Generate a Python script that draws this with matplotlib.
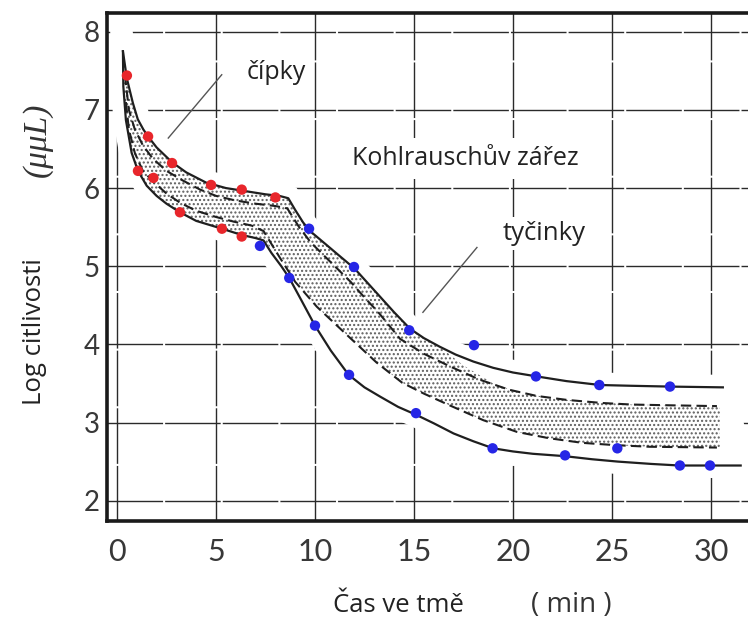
import numpy as np
import matplotlib
matplotlib.use("Agg")
import matplotlib.pyplot as plt

# Adaptace na tmu - prah citlivosti v case (cipky / tycinky)

# horni plna krivka (cipky -> tycinky)
upper_x = [0.3, 0.5, 0.8, 1.05, 1.33, 1.57, 2.0, 2.78, 3.5, 4.5, 5.5, 6.5, 7.5, 8.2, 8.65,
           9.0, 9.4, 9.75, 10.5, 11.2, 12.0, 13.0, 14.0, 14.8, 15.5, 16.3, 17.1, 18.0,
           19.0, 20.0, 21.2, 22.7, 24.4, 26.0, 27.9, 30.6]
upper_y = [7.75, 7.4, 7.09, 6.88, 6.75, 6.66, 6.52, 6.33, 6.2, 6.07, 6.0, 5.96, 5.92, 5.9, 5.87,
           5.72, 5.56, 5.45, 5.29, 5.14, 4.97, 4.69, 4.41, 4.2, 4.08, 3.97, 3.87, 3.78,
           3.7, 3.64, 3.59, 3.53, 3.48, 3.47, 3.46, 3.45]

# dolni plna krivka
lower_x = [0.3, 0.32, 0.45, 0.74, 1.06, 1.5, 2.0, 2.5, 3.18, 4.0, 5.3, 6.3, 7.0, 7.4,
           7.8, 8.3, 8.7, 9.3, 10.0, 10.8, 11.7, 12.5, 13.3, 14.2, 15.1, 16.0, 17.0,
           18.0, 19.0, 20.0, 21.0, 22.6, 24.0, 25.3, 27.0, 28.4, 30.0, 31.5]
lower_y = [7.75, 7.3, 6.87, 6.45, 6.22, 6.03, 5.9, 5.8, 5.69, 5.58, 5.48, 5.4, 5.36, 5.33,
           5.17, 5.0, 4.85, 4.57, 4.24, 3.92, 3.61, 3.45, 3.33, 3.2, 3.1, 2.99, 2.86,
           2.76, 2.67, 2.63, 2.6, 2.57, 2.53, 2.5, 2.47, 2.45, 2.45, 2.45]

# vnitrni carkovane krivky
dash_up_x = [0.4, 0.6, 0.9, 1.3, 1.8, 2.5, 3.3, 4.2, 5.0, 6.0, 7.0, 8.0, 8.6,
             9.2, 9.8, 10.8, 11.8, 12.5, 13.2, 14.3, 15.5, 16.8, 18.3, 19.8, 21.2,
             22.7, 24.5, 26.0, 28.0, 30.3]
dash_up_y = [7.45, 7.0, 6.75, 6.55, 6.38, 6.22, 6.1, 5.98, 5.9, 5.84, 5.8, 5.77, 5.74,
             5.5, 5.3, 5.05, 4.8, 4.6, 4.41, 4.07, 3.88, 3.72, 3.55, 3.42, 3.34,
             3.29, 3.25, 3.23, 3.22, 3.21]
dash_lo_x = [0.45, 0.6, 0.9, 1.3, 1.84, 2.5, 3.2, 4.0, 5.0, 5.9, 6.8, 7.4,
             8.2, 9.0, 10.1, 11.7, 13.1, 14.4, 15.5, 16.8, 18.5, 20.2, 21.8, 23.5,
             25.2, 26.9, 30.3]
dash_lo_y = [7.1, 6.75, 6.45, 6.22, 6.08, 5.93, 5.81, 5.71, 5.63, 5.57, 5.52, 5.45,
             5.12, 4.8, 4.48, 4.1, 3.77, 3.51, 3.37, 3.22, 3.03, 2.88, 2.8, 2.74,
             2.71, 2.69, 2.68]

# konec teckovane oblasti (mezi carkovanymi krivkami)
stip_tail_x = [17.5, 19.0, 20.5, 22.7, 26.0, 30.45]
stip_tail_y = [3.73, 3.5, 3.37, 3.29, 3.23, 3.21]

# mereni - cipky (cervene), tycinky (modre)
cone_x = [0.5, 1.57, 2.78, 1.06, 1.84, 3.18, 4.75, 6.3, 5.3, 6.3, 8.0]
cone_y = [7.44, 6.66, 6.32, 6.22, 6.13, 5.69, 6.04, 5.98, 5.48, 5.38, 5.88]
rod_x = [7.22, 9.7, 8.7, 11.97, 10.0, 14.76, 11.72, 15.1, 18.03, 21.16, 24.36, 27.93,
         18.97, 22.63, 25.27, 28.43, 29.95]
rod_y = [5.26, 5.48, 4.85, 4.99, 4.24, 4.18, 3.61, 3.12, 3.99, 3.59, 3.48, 3.46,
         2.67, 2.58, 2.67, 2.45, 2.45]

xticks = [0, 5, 10, 15, 20, 25, 30]
yticks = [2, 3, 4, 5, 6, 7, 8]

plt.rcParams["hatch.linewidth"] = 1.0
TXT = "Open Sans"

fig = plt.figure(figsize=(7.48, 6.22), dpi=100)
ax = fig.add_axes([107 / 748, 1 - 521 / 622, 1 - 107 / 748, 508 / 622])
ax.set_xlim(-0.505, 31.87)
ax.set_ylim(1.74, 8.24)

ax.set_xticks(xticks)
ax.set_yticks(yticks)
ax.set_axisbelow(True)
ax.grid(True, color="#2a2a2a", lw=1.0, linestyle=(0, (40, 1.5)))
ax.tick_params(length=0, colors="#383838")
ax.tick_params(axis="x", pad=12, labelsize=22)
ax.tick_params(axis="y", pad=5, labelsize=20)
for lab in ax.get_xticklabels() + ax.get_yticklabels():
    lab.set_fontfamily("Lato")
for side in ["left", "top", "bottom"]:
    ax.spines[side].set_linewidth(2.6)
    ax.spines[side].set_color("#1a1a1a")
ax.spines["right"].set_visible(False)

# bila plocha kolem pasu skryje mrizku
halo_x = upper_x + lower_x[::-1]
halo_y = upper_y + lower_y[::-1]
ax.fill(halo_x, halo_y, facecolor="white", edgecolor="white", lw=18, zorder=1)

# teckovany pas
top_x = [x for x in upper_x if x <= 16.3] + stip_tail_x
top_y = upper_y[:len(top_x) - len(stip_tail_x)] + stip_tail_y
n_cone = lower_x.index(7.4) + 1
i_rod = dash_lo_x.index(8.2)
bot_x = lower_x[:n_cone] + dash_lo_x[i_rod:-1] + [30.45]
bot_y = lower_y[:n_cone] + dash_lo_y[i_rod:-1] + [2.68]
ax.fill(top_x + bot_x[::-1], top_y + bot_y[::-1], facecolor="white",
        edgecolor="#5e5e5e", hatch="....", lw=0, zorder=2)

ax.plot(upper_x, upper_y, color="#1f1f1f", lw=1.6, zorder=3)
ax.plot(lower_x, lower_y, color="#1f1f1f", lw=1.6, zorder=3)
ax.plot(dash_up_x, dash_up_y, color="#1f1f1f", lw=1.5, ls=(0, (5, 2.5)), zorder=3)
ax.plot(dash_lo_x, dash_lo_y, color="#1f1f1f", lw=1.5, ls=(0, (5, 2.5)), zorder=3)

ax.scatter(cone_x, cone_y, s=56, color="#e8262b", edgecolors="none", zorder=5)
ax.scatter(rod_x, rod_y, s=56, color="#2626e6", edgecolors="none", zorder=5)

# popisky s odkazovymi carami
ax.plot([5.29, 2.59], [7.45, 6.64], color="#555555", lw=1.0, zorder=4)
ax.plot([18.18, 15.45], [5.24, 4.41], color="#555555", lw=1.0, zorder=4)
box = dict(facecolor="white", edgecolor="none", pad=3)
ax.text(6.57, 7.48, "čípky", fontsize=18, family=TXT, va="center", ha="left",
        color="#222222", bbox=box, zorder=4)
ax.text(11.85, 6.38, "Kohlrauschův zářez", fontsize=18, family=TXT, va="center",
        ha="left", color="#222222",
        bbox=dict(facecolor="white", edgecolor="none", pad=6), zorder=4)
ax.text(19.5, 5.42, "tyčinky", fontsize=18.5, family=TXT, va="center", ha="left",
        color="#222222", bbox=box, zorder=4)

# popisky os
fig.text(35 / 748, 1 - 332 / 622, "Log citlivosti", rotation=90, fontsize=18.5,
         family=TXT, ha="center", va="center", color="#222222")
fig.text(37 / 748, 1 - 140 / 622, "(μμL)", rotation=90, fontsize=24,
         family="Liberation Serif", style="italic", ha="center", va="center",
         color="#333333")
fig.text(398 / 748, 1 - 606 / 622, "Čas ve tmě", fontsize=18.5, family=TXT,
         ha="center", va="center", color="#222222")
fig.text(571 / 748, 1 - 605 / 622, "( min )", fontsize=20, family=TXT,
         ha="center", va="center", color="#333333")

fig.savefig("out.png", dpi=100)
